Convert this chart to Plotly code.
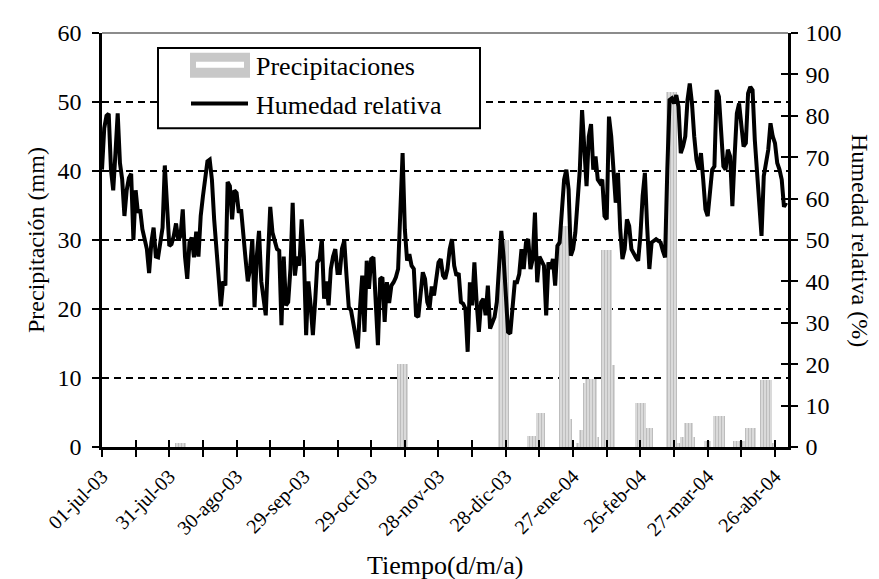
import pandas as pd
import plotly.graph_objects as go

# daily relative humidity (%) from 01-jul-03
start = pd.Timestamp("2003-07-01")
humidity = [
    67, 77, 80, 80.5, 67, 62, 71, 80.6, 68.6, 64.6,
    55.8, 62, 65, 66, 50, 62, 56.6, 57.4, 52.6, 50,
    47.8, 42, 49.4, 53, 46, 45.8, 49.4, 53, 68, 57.4,
    48.6, 49, 51, 54, 50, 51, 57.4, 46, 40.6, 49.4,
    50.6, 45.8, 52, 46, 55.8, 60.6, 65.4, 69, 69.4, 64.6,
    55, 48.6, 43, 34, 40, 39, 64, 63, 55, 62,
    61.4, 56.6, 57.4, 50, 45.4, 40, 43, 50.2, 33.8, 46,
    52.2, 40, 35, 31.8, 46, 58, 51.8, 49.4, 47.8, 47.4,
    29.4, 46, 34.2, 35, 43, 59, 41.4, 46, 43.8, 55,
    46, 27, 40, 34.2, 27, 35, 44.6, 45.4, 50.2, 35.8,
    40, 34.2, 43, 46, 47.8, 42, 42, 48, 49.8, 41.4,
    33.8, 33, 30.2, 27.8, 23.8, 33.4, 41.4, 27.8, 45, 38.2,
    45.4, 45.8, 33.4, 24.6, 40.6, 41, 30.2, 39.8, 34.8, 39,
    39.8, 41, 43, 60.6, 71, 52.6, 45, 46.6, 43.8, 43,
    31.8, 31.4, 36.6, 42.2, 40.6, 35, 33.4, 38.8, 36.6, 41.4,
    44.6, 45.4, 41.4, 40.6, 43, 47.8, 50.2, 43.8, 41.4, 42,
    35, 34.6, 33.4, 23, 39.8, 34.2, 44.6, 35, 27.8, 35,
    35.8, 31.8, 39, 28.6, 30.2, 31.4, 35, 46, 52.2, 46,
    35, 27.8, 27.4, 35, 39.8, 39.8, 41.8, 47.8, 43, 49.4,
    50.2, 43, 45.4, 56.6, 39.8, 46, 44.6, 43.8, 31.8, 44.6,
    43, 45.4, 39, 48.6, 49.4, 57.4, 64.6, 67, 62.2, 46.2,
    47.8, 51.8, 59, 67, 81.4, 71.8, 63, 75, 78, 67,
    70.2, 64.6, 63.8, 64.6, 55.8, 55, 79.8, 75, 65.4, 59,
    66.2, 52.6, 45.4, 47.8, 55, 53.4, 47.8, 46.6, 45.8, 45,
    51, 60.6, 66.2, 53.4, 43, 49.4, 49.8, 50.2, 49.8, 49.4,
    47.4, 45.8, 67, 83.8, 84.2, 83, 85, 82.2, 71, 72.6,
    75, 83.8, 87.8, 83, 75, 69.4, 67, 71, 64.6, 57.4,
    55.8, 62.2, 67, 67.8, 86.2, 84.6, 75.8, 67.8, 67, 71.8,
    70.2, 58.2, 70.2, 80.6, 83, 76.6, 72.6, 73.4, 85.4, 87,
    86.2, 74.2, 66.2, 59.8, 51, 65.4, 68.6, 71.8, 78.2, 75,
    73.4, 68.6, 67, 64.6, 58, 59,
]

# precipitation (mm), days counted from 01-jul-03 (only rainy days)
precip_day = [
    33, 34, 35, 36, 37,
    132, 133, 134, 135, 136,
    177, 178, 179, 180, 181,
    190, 191, 192, 193, 194, 195, 196, 197,
    204, 205, 206, 207, 208, 209,
    212, 213, 214, 215, 216, 217, 218, 219, 220, 221,
    223, 224, 225, 226, 227, 228,
    238, 239, 240, 241, 242, 243, 244, 245,
    252, 253, 254, 255, 256, 257, 258, 259, 260, 261, 262, 263, 264,
    269, 270, 271, 273, 274, 275, 276, 277,
    282, 283, 284, 285, 286, 287, 288, 289, 290, 291,
    294, 295, 296, 297, 298, 299,
]
precip_mm = [
    0.6, 0.6, 0.6, 0.6, 0.6,
    12.1, 12.1, 12.1, 12.1, 12.1,
    30, 30, 30, 30, 30,
    1.6, 1.6, 1.6, 1.6, 4.9, 4.9, 4.9, 4.9,
    32, 32, 32, 32, 32, 4,
    0.6, 2.5, 2.5, 9.3, 9.9, 9.9, 9.9, 9.9, 9.9, 1.4,
    28.5, 28.5, 28.5, 28.5, 28.5, 11.9,
    6.4, 6.4, 6.4, 6.4, 6.4, 2.7, 2.7, 2.7,
    51.5, 51.5, 51.5, 51.5, 51.5, 0.6, 1.4, 1.4, 3.5, 3.5, 3.5, 3.5, 1.4,
    0.8, 0.8, 0.8, 4.5, 4.5, 4.5, 4.5, 4.5,
    0.9, 0.9, 0.9, 0.9, 0.9, 2.8, 2.8, 2.8, 2.8, 2.8,
    9.7, 9.7, 9.7, 9.7, 9.7, 0.6,
]

tick_labels = ["01-jul-03", "31-jul-03", "30-ago-03", "29-sep-03", "29-oct-03",
               "28-nov-03", "28-dic-03", "27-ene-04", "26-feb-04", "27-mar-04",
               "26-abr-04"]

dates = pd.date_range(start, periods=len(humidity), freq="D")
precip_dates = start + pd.to_timedelta(precip_day, unit="D")
tick_dates = [start + pd.Timedelta(days=30 * i) for i in range(len(tick_labels))]
x_range = [start, start + pd.Timedelta(days=305.8)]
DAY = 86400000

FONT = "Liberation Serif"
W, H = 879, 579
L, R, T, B = 94, 99, 22, 140


def px(x, y):
    # pixel position -> paper coords
    return (x - L) / (W - L - R), (H - B - y) / (H - T - B)


fig = go.Figure()
fig.add_trace(go.Bar(
    x=precip_dates, y=precip_mm, width=DAY, yaxis="y", showlegend=False,
    marker=dict(color="#d4d4d4", line=dict(width=0),
                pattern=dict(shape="|", fgcolor="#a0a0a0", bgcolor="#dadada",
                             size=3, solidity=0.35)),
))
fig.add_trace(go.Scatter(
    x=dates, y=humidity, mode="lines", yaxis="y2", showlegend=False,
    line=dict(color="black", width=4),
))
# empty traces so the extra tick axes get drawn
for xa, ya in [("x2", "y"), ("x", "y3"), ("x", "y4")]:
    fig.add_trace(go.Scatter(x=[start], y=[None], xaxis=xa, yaxis=ya,
                             showlegend=False, hoverinfo="skip"))

tick_common = dict(tickwidth=2, tickcolor="black", ticklen=7)
minor_out = dict(ticks="outside", tick0=start, dtick=15 * DAY, **tick_common)
minor_in = dict(ticks="inside", tick0=start, dtick=15 * DAY, **tick_common)

fig.update_layout(
    width=W, height=H,
    margin=dict(l=L, r=R, t=T, b=B),
    paper_bgcolor="white", plot_bgcolor="white",
    font=dict(family=FONT, color="black"),
    bargap=0,
    xaxis=dict(type="date", range=x_range, tickmode="array", tickvals=tick_dates,
               ticktext=tick_labels, tickangle=-45, ticks="outside", minor=minor_out,
               showline=True, linecolor="black", linewidth=2.5, showgrid=False,
               zeroline=False, tickfont=dict(size=20, family=FONT), **tick_common),
    xaxis2=dict(type="date", range=x_range, overlaying="x", anchor="y", side="bottom",
                tickmode="array", tickvals=tick_dates, ticks="inside", minor=minor_in,
                showticklabels=False, showgrid=False, showline=False, zeroline=False,
                **tick_common),
    yaxis=dict(range=[0, 60], tick0=0, dtick=10, ticks="outside", showline=True,
               linecolor="black", linewidth=2.5, showgrid=True, gridcolor="black",
               gridwidth=2, griddash="7px,5px", zeroline=False, ticklabelstandoff=6,
               tickfont=dict(size=24, family=FONT), **tick_common),
    yaxis2=dict(range=[0, 100], tick0=0, dtick=10, overlaying="y", side="right",
                ticks="outside", showline=True, linecolor="black", linewidth=2.5,
                showgrid=False, zeroline=False, ticklabelstandoff=3,
                tickfont=dict(size=24, family=FONT), **tick_common),
    yaxis3=dict(range=[0, 60], tick0=0, dtick=10, overlaying="y", side="left",
                ticks="inside", showticklabels=False, showgrid=False, zeroline=False,
                **tick_common),
    yaxis4=dict(range=[0, 100], tick0=0, dtick=10, overlaying="y", side="right",
                ticks="inside", showticklabels=False, showgrid=False, zeroline=False,
                **tick_common),
)

shapes = [dict(type="line", xref="paper", yref="paper", x0=0, x1=1, y0=1, y1=1,
               line=dict(color="#8c8c8c", width=2), layer="below")]

# legend drawn by hand (box, bar swatch, line swatch)
bx0, by0 = px(150, 37)
bx1, by1 = px(472, 118)
shapes.append(dict(type="rect", xref="paper", yref="paper", x0=bx0, x1=bx1, y0=by1, y1=by0,
                   fillcolor="white", line=dict(color="black", width=2), layer="above"))
sx0, sy0 = px(182, 42)
sx1, sy1 = px(242, 67)
shapes.append(dict(type="rect", xref="paper", yref="paper", x0=sx0, x1=sx1, y0=sy1, y1=sy0,
                   fillcolor="#c8c8c8", line=dict(width=0), layer="above"))
ix0, iy0 = px(188, 51)
ix1, iy1 = px(236, 57)
shapes.append(dict(type="rect", xref="paper", yref="paper", x0=ix0, x1=ix1, y0=iy1, y1=iy0,
                   fillcolor="white", line=dict(width=0), layer="above"))
lx0, ly = px(183, 93)
lx1, _ = px(240, 93)
shapes.append(dict(type="line", xref="paper", yref="paper", x0=lx0, x1=lx1, y0=ly, y1=ly,
                   line=dict(color="black", width=4), layer="above"))
fig.update_layout(shapes=shapes)

tx, ty1 = px(246, 56)
_, ty2 = px(246, 95)
_, xt_y = px(0, 558)
lt_x, _ = px(28, 0)
rt_x, _ = px(852, 0)
annotations = [
    dict(text="Precipitaciones", x=tx, y=ty1, xanchor="left", yanchor="middle", size=26),
    dict(text="Humedad relativa", x=tx, y=ty2, xanchor="left", yanchor="middle", size=26),
    dict(text="Tiempo(d/m/a)", x=0.5, y=xt_y, xanchor="center", yanchor="middle", size=26),
    dict(text="Precipitación (mm)", x=lt_x, y=0.5, textangle=-90,
         xanchor="center", yanchor="middle", size=24),
    dict(text="Humedad relativa (%)", x=rt_x, y=0.5, textangle=90,
         xanchor="center", yanchor="middle", size=24),
]
for a in annotations:
    size = a.pop("size")
    a.update(xref="paper", yref="paper", showarrow=False,
             font=dict(size=size, family=FONT, color="black"))
fig.update_layout(annotations=annotations)

fig.write_html("out.html")
